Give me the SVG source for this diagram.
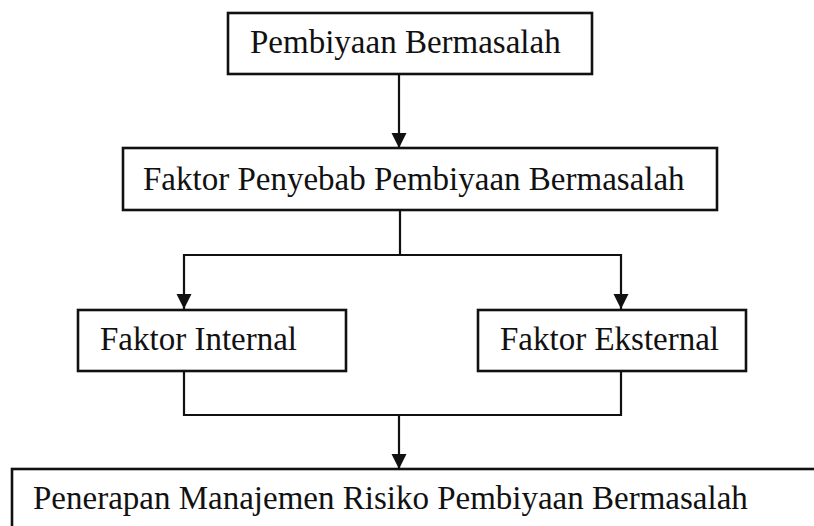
<svg xmlns="http://www.w3.org/2000/svg" width="814" height="526" viewBox="0 0 814 526">
<style>
.box{fill:#fff;stroke:#111;stroke-width:2.6}
.lbl{font-family:"Liberation Serif","Times New Roman",serif;font-size:33px;fill:#111}
.conn{fill:none;stroke:#111;stroke-width:2.2}
</style>
<defs>
<marker id="ah" markerUnits="userSpaceOnUse" markerWidth="16" markerHeight="16" refX="15" refY="7.5" orient="auto">
<path d="M0,0 L15,7.5 L0,15 z" fill="#111"/>
</marker>
</defs>
<rect width="814" height="526" fill="#fff"/>
<g id="connectors">
<path class="conn" d="M399,74 V148" marker-end="url(#ah)"/>
<path class="conn" d="M400,210 V255"/>
<path class="conn" d="M400,255 H184 V309" marker-end="url(#ah)"/>
<path class="conn" d="M400,255 H621 V309" marker-end="url(#ah)"/>
<path class="conn" d="M184,371 V415 H621 V371"/>
<path class="conn" d="M399,415 V469" marker-end="url(#ah)"/>
</g>
<g id="n1">
<rect class="box" x="228" y="13" width="364" height="61"/>
<text class="lbl" x="250" y="53">Pembiyaan Bermasalah</text>
</g>
<g id="n2">
<rect class="box" x="123" y="148" width="594" height="62"/>
<text class="lbl" x="143" y="190">Faktor Penyebab Pembiyaan Bermasalah</text>
</g>
<g id="n3">
<rect class="box" x="78" y="310" width="268" height="61"/>
<text class="lbl" x="100" y="350">Faktor Internal</text>
</g>
<g id="n4">
<rect class="box" x="478" y="310" width="268" height="61"/>
<text class="lbl" x="500" y="350">Faktor Eksternal</text>
</g>
<g id="n5">
<rect class="box" x="12" y="469" width="820" height="80"/>
<text class="lbl" x="33" y="509">Penerapan Manajemen Risiko Pembiyaan Bermasalah</text>
</g>
</svg>
